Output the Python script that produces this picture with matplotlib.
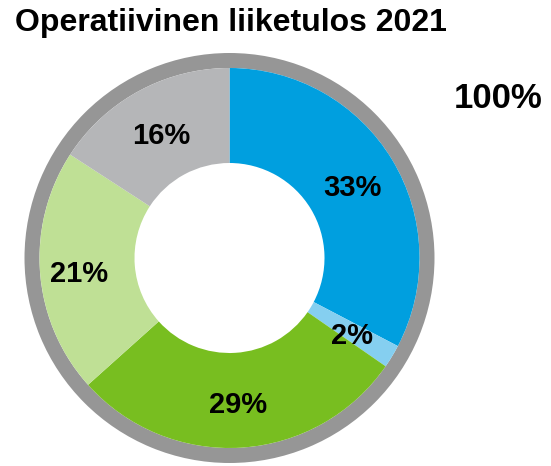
import numpy as np
import matplotlib
matplotlib.use('Agg')
import matplotlib.pyplot as plt

plt.rcParams['font.family'] = ['Liberation Sans', 'DejaVu Sans']

# data
title = 'Operatiivinen liiketulos 2021'
segments = ['33%', '2%', '29%', '21%', '16%']
shares = [33, 2, 29, 21, 16]
total_label = '100%'
colors = ['#009fdf', '#85cff0', '#78be20', '#bfe095', '#b5b6b8']
ring_color = '#969696'

# layout (pixel-like data units, y up)
W, H = 551, 466
cx, cy = 229.5, 208
r_ring, r_out, r_hole = 205, 190, 95
label_r_extra = [0, 0, 0, 7, 0]

fig = plt.figure(figsize=(W / 100, H / 100), dpi=100)
ax = fig.add_axes([0, 0, 1, 1])

ax.pie([100], radius=r_ring, center=(cx, cy), startangle=90, colors=[ring_color],
       wedgeprops=dict(width=r_ring - r_out, edgecolor='none'))
wedges, _ = ax.pie(shares, radius=r_out, center=(cx, cy), startangle=90, counterclock=False,
                   colors=colors, wedgeprops=dict(width=r_out - r_hole, edgecolor='none'))

# labels at middle of each wedge
r_lab = (r_out + r_hole) / 2 + 1
for w, lab, dr in zip(wedges, segments, label_r_extra):
    ang = np.deg2rad((w.theta1 + w.theta2) / 2)
    ax.text(cx + (r_lab + dr) * np.cos(ang), cy + (r_lab + dr) * np.sin(ang) - 4, lab,
            ha='center', va='center', fontsize=21, fontweight='bold', color='black')

ax.text(15, H - 23, title, ha='left', va='center', fontsize=23, fontweight='bold')
ax.text(498, H - 98, total_label, ha='center', va='center', fontsize=25, fontweight='bold')

ax.set_xlim(0, W)
ax.set_ylim(0, H)
ax.set_aspect('equal')
ax.axis('off')

fig.savefig('out.png', dpi=100)
